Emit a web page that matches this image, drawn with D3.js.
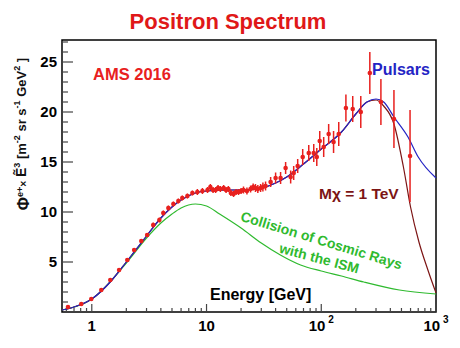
<!DOCTYPE html>
<html>
<head>
<meta charset="utf-8">
<script src="https://cdn.jsdelivr.net/npm/d3@7"></script>
<style>
  body { margin: 0; background: #fff; }
  svg { font-family: 'Liberation Sans', Arial, sans-serif; }
</style>
</head>
<body>
<svg id="chart"></svg>
<script>
// AMS 2016 positron data (E in GeV, flux x E^3)
const energy = [0.62, 0.81, 0.99, 1.21, 1.45, 1.73, 2.04, 2.34, 2.70, 3.04, 3.43, 3.88, 4.20, 4.65, 5.14, 5.68,
  6.15, 6.81, 7.53, 8.32, 9.21, 10.2, 10.8, 11.4, 12.0, 12.6, 13.2, 14.1, 14.8, 15.5, 16.3, 17.2, 18.1, 19.0,
  20.0, 21.0, 22.5, 24.2, 25.5, 26.7, 28.0, 29.6, 31.0, 32.7, 36.2, 40.0, 44.2, 48.9, 54.1, 57.5, 62.3, 68.9,
  77.8, 86.0, 91.4, 97.0, 105, 116, 128, 142, 164, 188, 221, 265, 331, 430, 594]
const flux = [0.5, 0.8, 1.3, 2.2, 3.2, 4.2, 5.2, 6.2, 7.1, 7.7, 8.7, 9.2, 9.9, 10.4, 10.8, 11.1,
  11.4, 11.6, 11.9, 12.0, 12.1, 12.2, 12.5, 12.2, 12.2, 12.4, 12.3, 12.4, 12.2, 12.3, 11.9, 11.8, 12.0, 12.0,
  12.1, 12.2, 12.1, 12.3, 12.5, 12.4, 12.3, 12.4, 12.5, 12.6, 13.0, 13.4, 13.4, 14.4, 13.5, 13.9, 14.6, 15.5,
  15.9, 15.9, 15.5, 17.1, 16.5, 17.8, 17.0, 17.8, 20.4, 20.3, 20.0, 23.9, 21.0, 19.3, 15.6]
const fluxErr = [0.1, 0.1, 0.1, 0.1, 0.15, 0.15, 0.2, 0.2, 0.2, 0.2, 0.25, 0.25, 0.25, 0.25, 0.25, 0.25,
  0.25, 0.25, 0.25, 0.3, 0.3, 0.3, 0.3, 0.3, 0.3, 0.3, 0.3, 0.3, 0.3, 0.3, 0.3, 0.3, 0.3, 0.3,
  0.3, 0.35, 0.35, 0.35, 0.35, 0.4, 0.4, 0.4, 0.45, 0.45, 0.5, 0.55, 0.6, 0.6, 0.65, 0.7, 0.7, 0.8,
  0.8, 0.9, 0.9, 1.0, 1.0, 1.0, 1.1, 1.2, 1.35, 1.3, 1.6, 2.1, 2.3, 2.9, 4.6]

// pulsar model
const pulsarE = [0.55, 0.7, 1, 1.5, 2, 3, 4, 5, 6, 8, 10, 15, 20, 30, 40, 50, 70, 100, 150, 200, 250, 300,
  350, 430, 570, 700, 1000]
const pulsarFlux = [0.2, 0.5, 1.3, 3.2, 5.0, 7.6, 9.4, 10.5, 11.2, 11.9, 12.1, 12.2, 12.2, 12.4, 12.9, 13.5,
  14.8, 16.3, 18.0, 19.8, 21.0, 21.3, 21.0, 19.5, 17.5, 15.5, 13.4]

// dark matter model, M = 1 TeV
const dmE = [0.55, 0.7, 1, 1.5, 2, 3, 4, 5, 6, 8, 10, 15, 20, 30, 40, 50, 70, 100, 150, 200, 250, 300,
  350, 430, 520, 600, 710, 850, 1000]
const dmFlux = [0.2, 0.5, 1.3, 3.2, 5.0, 7.6, 9.4, 10.5, 11.2, 11.9, 12.1, 12.2, 12.2, 12.4, 12.9, 13.5,
  14.8, 16.3, 18.0, 19.8, 21.0, 21.2, 20.6, 18.8, 14.5, 10.5, 7.0, 4.2, 1.9]

// background: collision of cosmic rays with the ISM
const bgE = [0.55, 1, 2, 3, 4, 5, 6, 8, 10, 13, 20, 30, 44, 66, 100, 150, 235, 480, 1000]
const bgFlux = [0.2, 1.3, 4.9, 7.4, 8.9, 9.8, 10.4, 10.8, 10.6, 9.8, 8.4, 6.9, 5.7, 4.7, 4.1, 3.6, 3.0, 2.2, 1.8]

const yTicks = [5, 10, 15, 20, 25]
const xTicks = [1, 10, 100, 1000]
const xTickLabels = ['1', '10', '10', '10']
const xTickPowers = ['', '', '2', '3']

const width = 460
const height = 348
const margin = { top: 40, left: 62, right: 24, bottom: 36 }

const svg = d3.select('#chart')
  .attr('width', width)
  .attr('height', height)

/// Scales ///
const xScale = d3.scaleLog().domain([0.55, 1000]).range([margin.left, width - margin.right])
const yScale = d3.scaleLinear().domain([0, 27.2]).range([height - margin.bottom, margin.top])

const red = '#e8201e'
const blue = '#2424c4'
const brown = '#7c1414'
const green = '#2fba2f'

/// frame ///
svg.append('rect')
  .attr('x', margin.left)
  .attr('y', margin.top)
  .attr('width', width - margin.left - margin.right)
  .attr('height', height - margin.top - margin.bottom)
  .attr('fill', 'none')
  .attr('stroke', '#000')
  .attr('stroke-width', 1.5)

/// y ticks (inward) ///
const yMinor = d3.range(1, 28)
svg.append('g')
  .selectAll('line')
  .data(yMinor)
  .enter()
  .append('line')
  .attr('x1', margin.left)
  .attr('x2', d => margin.left + (d % 5 === 0 ? 11 : 6))
  .attr('y1', d => yScale(d))
  .attr('y2', d => yScale(d))
  .attr('stroke', '#444')
  .attr('stroke-width', 1.2)

svg.append('g')
  .selectAll('text')
  .data(yTicks)
  .enter()
  .append('text')
  .attr('x', margin.left - 5)
  .attr('y', d => yScale(d) + 5)
  .attr('text-anchor', 'end')
  .attr('font-size', 15)
  .attr('font-weight', 'bold')
  .text(d => d)

/// x ticks (inward) ///
const xMinor = []
;[0.1, 1, 10, 100].forEach(dec => {
  d3.range(1, 10).forEach(m => {
    const v = dec * m
    if (v >= 0.55 && v <= 1000) xMinor.push(v)
  })
})
xMinor.push(1000)
svg.append('g')
  .selectAll('line')
  .data(xMinor)
  .enter()
  .append('line')
  .attr('x1', d => xScale(d))
  .attr('x2', d => xScale(d))
  .attr('y1', yScale(0))
  .attr('y2', d => yScale(0) - (xTicks.includes(Math.round(d)) && Math.abs(Math.log10(d) % 1) < 1e-6 ? 8 : 4))
  .attr('stroke', '#444')
  .attr('stroke-width', 1.2)

const xLabels = svg.append('g')
  .selectAll('text')
  .data(xTicks)
  .enter()
  .append('text')
  .attr('x', d => xScale(d))
  .attr('y', 331)
  .attr('text-anchor', 'middle')
  .attr('font-size', 15)
  .attr('font-weight', 'bold')
xLabels.append('tspan').text((d, i) => xTickLabels[i])
xLabels.append('tspan')
  .attr('font-size', 10)
  .attr('dy', -8)
  .attr('dx', 3)
  .text((d, i) => xTickPowers[i])

/// curves ///
const line = d3.line()
  .x(d => xScale(d[0]))
  .y(d => yScale(d[1]))
  .curve(d3.curveMonotoneX)

svg.append('path')
  .datum(bgE.map((e, i) => [e, bgFlux[i]]))
  .attr('d', line)
  .attr('fill', 'none')
  .attr('stroke', green)
  .attr('stroke-width', 1.2)

svg.append('path')
  .datum(dmE.map((e, i) => [e, dmFlux[i]]))
  .attr('d', line)
  .attr('fill', 'none')
  .attr('stroke', brown)
  .attr('stroke-width', 1.2)

svg.append('path')
  .datum(pulsarE.map((e, i) => [e, pulsarFlux[i]]))
  .attr('d', line)
  .attr('fill', 'none')
  .attr('stroke', blue)
  .attr('stroke-width', 1.2)

/// data points ///
const pts = svg.append('g')
  .selectAll('g')
  .data(energy.map((e, i) => ({ e, v: flux[i], err: fluxErr[i] })))
  .enter()
  .append('g')

pts.append('line')
  .attr('x1', d => xScale(d.e))
  .attr('x2', d => xScale(d.e))
  .attr('y1', d => yScale(d.v - d.err))
  .attr('y2', d => yScale(d.v + d.err))
  .attr('stroke', red)
  .attr('stroke-width', 1.5)

pts.append('circle')
  .attr('cx', d => xScale(d.e))
  .attr('cy', d => yScale(d.v))
  .attr('r', 2.3)
  .attr('fill', red)

/// text labels ///
svg.append('text')
  .attr('x', 228)
  .attr('y', 29)
  .attr('text-anchor', 'middle')
  .attr('font-size', 22)
  .attr('font-weight', 'bold')
  .attr('fill', '#e01818')
  .text('Positron Spectrum')

svg.append('text')
  .attr('x', 93)
  .attr('y', 80)
  .attr('font-size', 16.5)
  .attr('font-weight', 'bold')
  .attr('fill', red)
  .text('AMS 2016')

svg.append('text')
  .attr('x', 372)
  .attr('y', 75)
  .attr('font-size', 16)
  .attr('font-weight', 'bold')
  .attr('fill', blue)
  .text('Pulsars')

svg.append('text')
  .attr('x', 319)
  .attr('y', 199)
  .attr('font-size', 15.5)
  .attr('font-weight', 'bold')
  .attr('fill', brown)
  .text('Mχ = 1 TeV')

svg.append('text')
  .attr('transform', 'translate(320,245) rotate(17)')
  .attr('text-anchor', 'middle')
  .attr('font-size', 14)
  .attr('font-weight', 'bold')
  .attr('fill', green)
  .text('Collision of Cosmic Rays')

svg.append('text')
  .attr('transform', 'translate(318,263) rotate(15)')
  .attr('text-anchor', 'middle')
  .attr('font-size', 14)
  .attr('font-weight', 'bold')
  .attr('fill', green)
  .text('with the ISM')

svg.append('text')
  .attr('x', 210)
  .attr('y', 300)
  .attr('font-size', 16)
  .attr('font-weight', 'bold')
  .attr('fill', '#000')
  .text('Energy [GeV]')

/// y axis title ///
const yTitle = svg.append('text')
  .attr('transform', 'translate(29,134) rotate(-90)')
  .attr('text-anchor', 'middle')
  .attr('font-size', 13)
  .attr('font-weight', 'bold')
  .attr('fill', '#111')
const parts = [
  ['Φ', 0, 16], ['e+', -6, 9], ['×', 4, 10], [' Ẽ', -1, 14], ['3', -6, 9],
  [' [m', 6, 13], ['-2', -6, 9], [' sr s', 6, 13], ['-1', -6, 9], [' GeV', 6, 13], ['2', -6, 9], [' ]', 6, 13]
]
parts.forEach(p => {
  yTitle.append('tspan')
    .attr('dy', p[1])
    .attr('font-size', p[2])
    .text(p[0])
})
</script>
</body>
</html>
